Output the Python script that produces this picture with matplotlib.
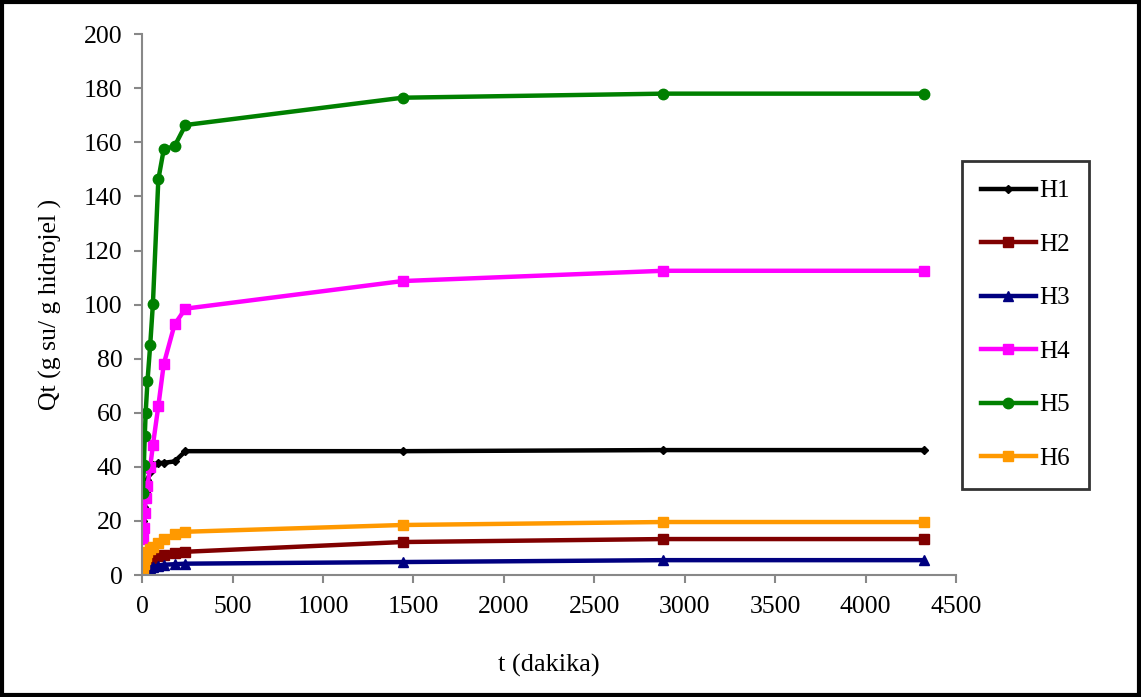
import matplotlib
matplotlib.use("Agg")
import matplotlib.pyplot as plt
from matplotlib.patches import Rectangle

# Sampling times (minutes)
t = [5, 10, 15, 20, 30, 45, 60, 90, 120, 180, 240, 1440, 2880, 4320]

h1 = [20, 25, 28, 30.7, 35, 38, 40.7, 41.4, 41.5, 42, 45.8, 45.8, 46.2, 46.2]
h2 = [1, 2, 3, 4, 4.8, 5.5, 6.2, 7, 7.5, 8, 8.6, 12.2, 13.3, 13.3]
h3 = [0.3, 1, 1.5, 2, 2.4, 2.7, 3, 3.5, 3.8, 4, 4.2, 4.8, 5.5, 5.5]
h4 = [13.2, 17.5, 23, 28.3, 33, 40, 48, 62.5, 78, 92.7, 98.5, 108.7, 112.5, 112.5]
h5 = [30.5, 40.8, 51.4, 60, 71.7, 85, 100.3, 146.3, 157.4, 158.6, 166.4, 176.5, 178, 178]
h6 = [2, 4, 6, 7, 8.5, 9.5, 10.5, 12, 13.5, 15, 16, 18.5, 19.6, 19.6]

labels = ["H1", "H2", "H3", "H4", "H5", "H6"]
colors = ["#000000", "#800000", "#000080", "#FF00FF", "#008000", "#FF9900"]
markers = ["D", "s", "^", "s", "o", "s"]
msizes = [4.5, 7, 7, 7, 7.5, 7]

plt.rcParams["font.family"] = ["Liberation Serif", "DejaVu Serif"]

fig = plt.figure(figsize=(11.41, 6.97), dpi=100)
ax = fig.add_axes([0.1245, 0.175, 0.7135, 0.776])

for y, lab, c, m, ms in zip([h1, h2, h3, h4, h5, h6], labels, colors, markers, msizes):
    ax.plot(t, y, color=c, marker=m, markersize=ms, linewidth=3.2, label=lab)

ax.set_xlim(0, 4500)
ax.set_ylim(0, 200)
ax.set_xticks(range(0, 4501, 500))
ax.set_yticks(range(0, 201, 20))
for s in ["top", "right"]:
    ax.spines[s].set_visible(False)
for s in ["left", "bottom"]:
    ax.spines[s].set_color("#888888")
    ax.spines[s].set_linewidth(1.5)
ax.tick_params(axis="both", colors="#888888", length=6, width=1.5,
               labelcolor="black", labelsize=18.5)
ax.tick_params(axis="x", pad=9)
ax.tick_params(axis="y", pad=8)

ax.set_xlabel("t (dakika)", fontsize=19, labelpad=26)
ax.set_ylabel("Qt (g su/ g hidrojel )", fontsize=18.5, labelpad=16)

leg = ax.legend(loc="upper left", frameon=True, fancybox=False, fontsize=18,
                handlelength=2.2, labelspacing=1.24, borderpad=0.75,
                handletextpad=0.15, borderaxespad=0)
leg.get_frame().set_edgecolor("black")
leg.get_frame().set_linewidth(2)
leg.set_bbox_to_anchor((962 / 1141, 1 - 161 / 697), transform=fig.transFigure)

fig.patches.append(Rectangle((0.002, 0.003), 0.996, 0.994, transform=fig.transFigure,
                             fill=False, edgecolor="black", linewidth=3))

fig.savefig("out.png", dpi=100)
